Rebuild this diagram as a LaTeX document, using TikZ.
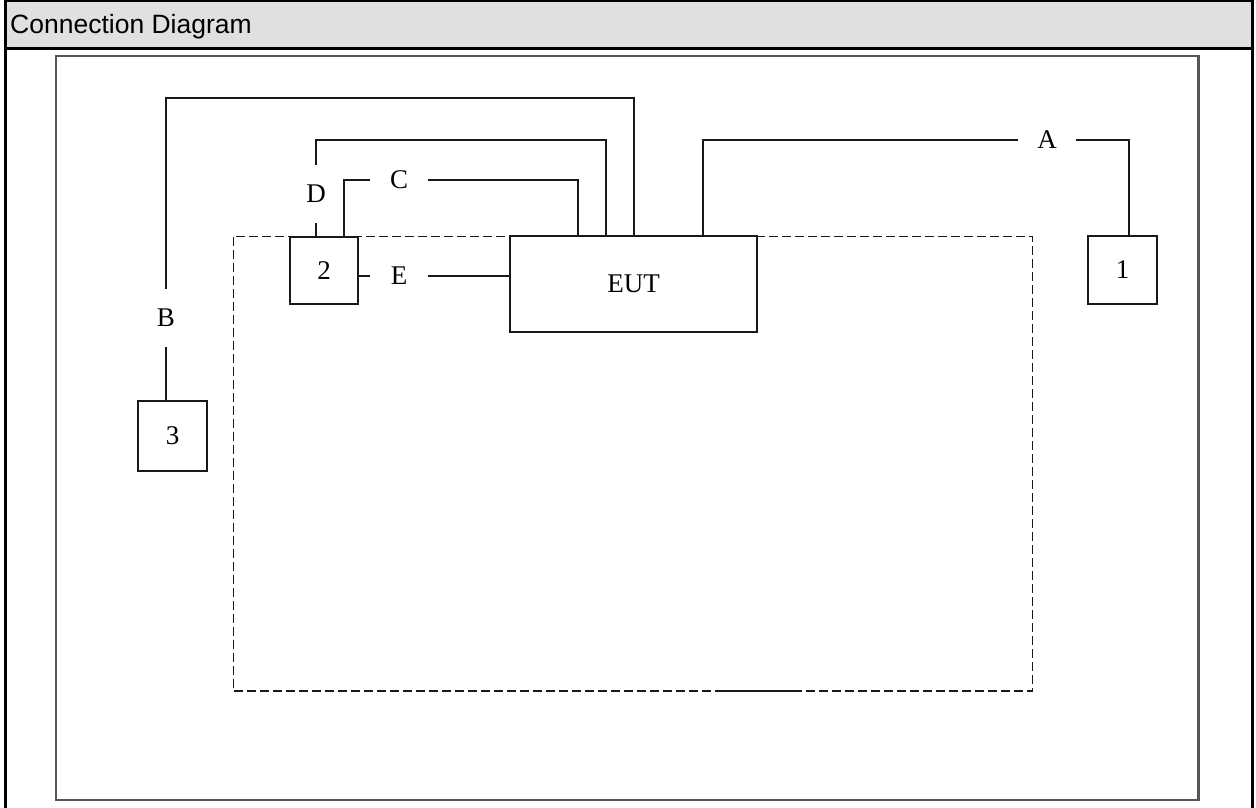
\documentclass[tikz,border=0pt]{standalone}
\usepackage{fontspec}
\setmainfont{Liberation Serif}
\newfontfamily\headfont{Liberation Sans}
\usetikzlibrary{positioning}
\definecolor{headgray}{RGB}{224,224,224}
\definecolor{framegray}{RGB}{85,85,85}
\definecolor{ink}{RGB}{25,25,25}

\begin{document}
\begin{tikzpicture}[x=1pt,y=-1pt,
    unit/.style={draw=ink,fill=white,line width=1.9pt,inner sep=0pt,font=\fontsize{27}{31}\selectfont},
    tag/.style={inner sep=0pt,minimum width=58pt,minimum height=58pt,font=\fontsize{27}{31}\selectfont},
    cable/.style={ink,line width=1.9pt}]
  \useasboundingbox (0,0) rectangle (1256,808);
  % table head
  \fill[headgray] (5.5,1) rectangle (1252,48.5);
  \node[anchor=base west,inner sep=0pt,font=\headfont\fontsize{26.5}{30}\selectfont] (title) at (10,34) {Connection Diagram};
  \draw[black,line width=3pt] (5.5,808) -- (5.5,1) -- (1252,1) -- (1252,808);
  \draw[black,line width=3pt] (5.5,48.5) -- (1252,48.5);
  % test frame and table
  \draw[framegray,line width=2.8pt] (56,56) rectangle (1198.5,800);
  \draw[ink,line width=1.8pt,dash pattern=on 9pt off 4pt] (233.5,236.5) rectangle (1032.5,691);
  \draw[ink,line width=2.2pt] (716,691) -- (793,691);
  % units
  \node[unit,minimum width=247pt,minimum height=96pt] (eut) at (633.5,284) {EUT};
  \node[unit,minimum width=69pt,minimum height=68pt] (box1) at (1122.5,270) {1};
  \node[unit,minimum width=68pt,minimum height=67pt] (box2) at (324,270.5) {2};
  \node[unit,minimum width=69pt,minimum height=70pt] (box3) at (172.5,436) {3};
  % cable A
  \coordinate (a1) at (703,140);
  \coordinate (a2) at (1129,140);
  \node[tag] (la) at (1047,140) {A};
  \draw[cable] (eut.north -| a1) -- (a1) -- (la.west);
  \draw[cable] (la.east) -- (a2) -- (a2 |- box1.north);
  % cable B
  \coordinate (b1) at (634,98);
  \coordinate (b2) at (166,98);
  \node[tag] (lb) at (166,318) {B};
  \draw[cable] (eut.north -| b1) -- (b1) -- (b2) -- (lb.north);
  \draw[cable] (lb.south) -- (lb.south |- box3.north);
  % cable C
  \coordinate (c1) at (578,180);
  \coordinate (c2) at (344,180);
  \node[tag] (lc) at (399,180) {C};
  \draw[cable] (eut.north -| c1) -- (c1) -- (lc.east);
  \draw[cable] (lc.west) -- (c2) -- (c2 |- box2.north);
  % cable D
  \coordinate (d1) at (606,140);
  \coordinate (d2) at (316,140);
  \node[tag] (ld) at (316,194) {D};
  \draw[cable] (eut.north -| d1) -- (d1) -- (d2) -- (ld.north);
  \draw[cable] (ld.south) -- (ld.south |- box2.north);
  % cable E
  \node[tag] (le) at (399,276) {E};
  \draw[cable] (le.east) -- (le.east -| eut.west);
  \draw[cable] (le.west) -- (le.west -| box2.east);
\end{tikzpicture}
\end{document}
